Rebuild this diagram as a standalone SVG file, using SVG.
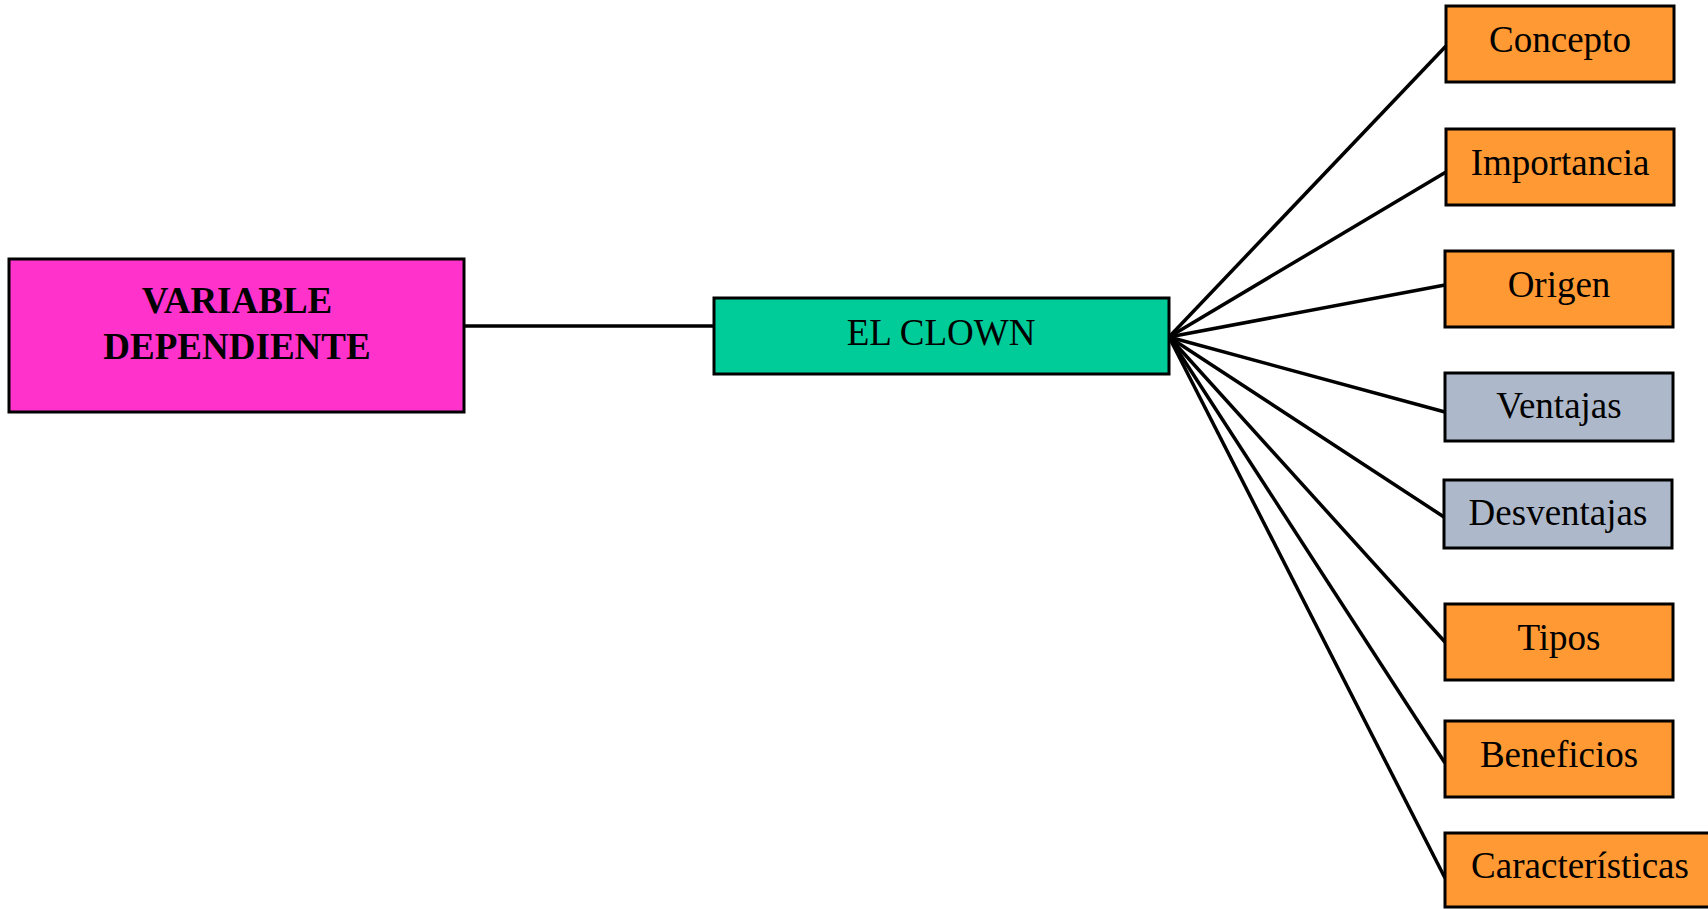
<svg xmlns="http://www.w3.org/2000/svg" width="1708" height="909" viewBox="0 0 1708 909">
<style>
.box{stroke:#000;stroke-width:3}
.pink{fill:#FF33CC}
.green{fill:#00CC99}
.orange{fill:#FF9933}
.gray{fill:#ADB9CA}
text{font-family:"Liberation Serif","Times New Roman",serif;font-size:37px;fill:#000;text-anchor:middle}
.b{font-weight:bold;font-size:37px}
.conn line{stroke:#000;stroke-width:3.5}
</style>
<rect width="1708" height="909" fill="#fff"/>
<g class="conn">
<line x1="464" y1="326" x2="714" y2="326"/>
<line x1="1169" y1="337" x2="1446" y2="46"/>
<line x1="1169" y1="337" x2="1446" y2="172"/>
<line x1="1169" y1="337" x2="1445" y2="285"/>
<line x1="1169" y1="337" x2="1445" y2="412"/>
<line x1="1169" y1="337" x2="1444" y2="517"/>
<line x1="1169" y1="337" x2="1445" y2="642"/>
<line x1="1169" y1="337" x2="1445" y2="763"/>
<line x1="1169" y1="337" x2="1445" y2="878"/>
</g>
<g id="variable">
<rect class="box pink" x="9" y="259" width="455" height="153"/>
<text class="b" x="237" y="313">VARIABLE</text>
<text class="b" x="237" y="359">DEPENDIENTE</text>
</g>
<g id="clown">
<rect class="box green" x="714" y="298" width="455" height="76"/>
<text x="941" y="345">EL CLOWN</text>
</g>
<g id="concepto">
<rect class="box orange" x="1446" y="6" width="228" height="76"/>
<text x="1560" y="52">Concepto</text>
</g>
<g id="importancia">
<rect class="box orange" x="1446" y="129" width="228" height="76"/>
<text x="1560" y="175">Importancia</text>
</g>
<g id="origen">
<rect class="box orange" x="1445" y="251" width="228" height="76"/>
<text x="1559" y="297">Origen</text>
</g>
<g id="ventajas">
<rect class="box gray" x="1445" y="373" width="228" height="68"/>
<text x="1559" y="418">Ventajas</text>
</g>
<g id="desventajas">
<rect class="box gray" x="1444" y="480" width="228" height="68"/>
<text x="1558" y="525">Desventajas</text>
</g>
<g id="tipos">
<rect class="box orange" x="1445" y="604" width="228" height="76"/>
<text x="1559" y="650">Tipos</text>
</g>
<g id="beneficios">
<rect class="box orange" x="1445" y="721" width="228" height="76"/>
<text x="1559" y="767">Beneficios</text>
</g>
<g id="caracteristicas">
<rect class="box orange" x="1445" y="833" width="275" height="74"/>
<text x="1580" y="878">Características</text>
</g>
</svg>
